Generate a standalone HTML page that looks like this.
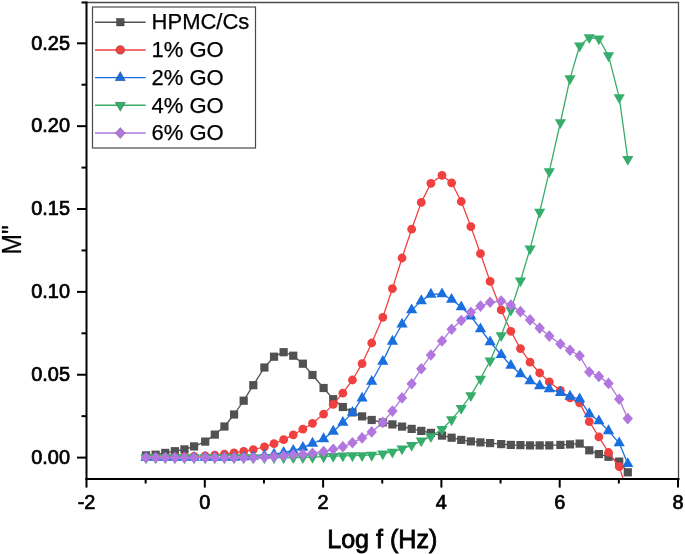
<!DOCTYPE html>
<html><head><meta charset="utf-8"><title>M'' vs Log f</title>
<style>html,body{margin:0;padding:0;background:#fff}svg{display:block}</style></head>
<body>
<svg width="685" height="554" viewBox="0 0 685 554">
<rect width="685" height="554" fill="#fff"/>
<defs><clipPath id="c"><rect x="86.5" y="2.5" width="592.0" height="475.4"/></clipPath></defs>
<g clip-path="url(#c)">
<g><polyline points="146,455.4 155.62,454.7 165.24,452.9 174.86,451.2 184.48,449.4 194.1,446.4 205.2,441.6 214.82,434.6 224.44,426.5 234.06,414.5 243.68,400.7 253.3,385.2 264.4,367.5 274.02,356.7 283.64,352.2 293.26,355.7 302.88,363.7 312.5,375 323.6,388 333.22,399.2 342.84,407 352.46,412.4 362.08,416.4 371.7,420 382.8,422.4 392.42,424.4 402.04,426.6 411.66,428.9 421.28,430.9 430.9,432.9 442,435.6 451.62,437.7 461.24,439.9 470.86,441.4 480.48,442.4 490.1,443.1 501.2,444.1 510.82,444.9 520.44,445.1 530.06,445.4 539.68,445.4 549.3,445.4 560.4,444.9 570.02,444.4 579.64,443.6 589.26,450.3 598.88,454.1 608.5,456.8 619.2,461.6 627.8,472.3" fill="none" stroke="#515151" stroke-width="1.3" stroke-linejoin="round"/>
<rect x="141.9" y="451.3" width="8.2" height="8.2" fill="#515151"/>
<rect x="151.52" y="450.6" width="8.2" height="8.2" fill="#515151"/>
<rect x="161.14" y="448.8" width="8.2" height="8.2" fill="#515151"/>
<rect x="170.76" y="447.1" width="8.2" height="8.2" fill="#515151"/>
<rect x="180.38" y="445.3" width="8.2" height="8.2" fill="#515151"/>
<rect x="190" y="442.3" width="8.2" height="8.2" fill="#515151"/>
<rect x="201.1" y="437.5" width="8.2" height="8.2" fill="#515151"/>
<rect x="210.72" y="430.5" width="8.2" height="8.2" fill="#515151"/>
<rect x="220.34" y="422.4" width="8.2" height="8.2" fill="#515151"/>
<rect x="229.96" y="410.4" width="8.2" height="8.2" fill="#515151"/>
<rect x="239.58" y="396.6" width="8.2" height="8.2" fill="#515151"/>
<rect x="249.2" y="381.1" width="8.2" height="8.2" fill="#515151"/>
<rect x="260.3" y="363.4" width="8.2" height="8.2" fill="#515151"/>
<rect x="269.92" y="352.6" width="8.2" height="8.2" fill="#515151"/>
<rect x="279.54" y="348.1" width="8.2" height="8.2" fill="#515151"/>
<rect x="289.16" y="351.6" width="8.2" height="8.2" fill="#515151"/>
<rect x="298.78" y="359.6" width="8.2" height="8.2" fill="#515151"/>
<rect x="308.4" y="370.9" width="8.2" height="8.2" fill="#515151"/>
<rect x="319.5" y="383.9" width="8.2" height="8.2" fill="#515151"/>
<rect x="329.12" y="395.1" width="8.2" height="8.2" fill="#515151"/>
<rect x="338.74" y="402.9" width="8.2" height="8.2" fill="#515151"/>
<rect x="348.36" y="408.3" width="8.2" height="8.2" fill="#515151"/>
<rect x="357.98" y="412.3" width="8.2" height="8.2" fill="#515151"/>
<rect x="367.6" y="415.9" width="8.2" height="8.2" fill="#515151"/>
<rect x="378.7" y="418.3" width="8.2" height="8.2" fill="#515151"/>
<rect x="388.32" y="420.3" width="8.2" height="8.2" fill="#515151"/>
<rect x="397.94" y="422.5" width="8.2" height="8.2" fill="#515151"/>
<rect x="407.56" y="424.8" width="8.2" height="8.2" fill="#515151"/>
<rect x="417.18" y="426.8" width="8.2" height="8.2" fill="#515151"/>
<rect x="426.8" y="428.8" width="8.2" height="8.2" fill="#515151"/>
<rect x="437.9" y="431.5" width="8.2" height="8.2" fill="#515151"/>
<rect x="447.52" y="433.6" width="8.2" height="8.2" fill="#515151"/>
<rect x="457.14" y="435.8" width="8.2" height="8.2" fill="#515151"/>
<rect x="466.76" y="437.3" width="8.2" height="8.2" fill="#515151"/>
<rect x="476.38" y="438.3" width="8.2" height="8.2" fill="#515151"/>
<rect x="486" y="439" width="8.2" height="8.2" fill="#515151"/>
<rect x="497.1" y="440" width="8.2" height="8.2" fill="#515151"/>
<rect x="506.72" y="440.8" width="8.2" height="8.2" fill="#515151"/>
<rect x="516.34" y="441" width="8.2" height="8.2" fill="#515151"/>
<rect x="525.96" y="441.3" width="8.2" height="8.2" fill="#515151"/>
<rect x="535.58" y="441.3" width="8.2" height="8.2" fill="#515151"/>
<rect x="545.2" y="441.3" width="8.2" height="8.2" fill="#515151"/>
<rect x="556.3" y="440.8" width="8.2" height="8.2" fill="#515151"/>
<rect x="565.92" y="440.3" width="8.2" height="8.2" fill="#515151"/>
<rect x="575.54" y="439.5" width="8.2" height="8.2" fill="#515151"/>
<rect x="585.16" y="446.2" width="8.2" height="8.2" fill="#515151"/>
<rect x="594.78" y="450" width="8.2" height="8.2" fill="#515151"/>
<rect x="604.4" y="452.7" width="8.2" height="8.2" fill="#515151"/>
<rect x="615.1" y="457.5" width="8.2" height="8.2" fill="#515151"/>
<rect x="623.7" y="468.2" width="8.2" height="8.2" fill="#515151"/>
</g>
<g><polyline points="146,457.3 155.62,457.2 165.24,457 174.86,456.8 184.48,456.6 194.1,456.3 205.2,455.8 214.82,455.1 224.44,454.1 234.06,452.8 243.68,451.4 253.3,449.6 264.4,446.9 274.02,443.7 283.64,439.7 293.26,434.8 302.88,429.2 312.5,423.3 323.6,414.1 333.22,404.4 342.84,393.2 352.46,380 362.08,363.7 371.7,343 382.8,317.3 392.42,288.6 402.04,258 411.66,229.2 421.28,202.4 430.9,183.3 442,175.4 451.62,182.8 461.24,201.5 470.86,226.6 480.48,253.7 490.1,281.4 501.2,309.9 510.82,331.3 520.44,348.6 530.06,362.2 539.68,373 549.3,381.9 560.4,390.4 570.02,397.9 579.64,402.9 589.26,421.7 598.88,436.9 608.5,452.5 619.2,466.6 627.8,493" fill="none" stroke="#F14040" stroke-width="1.3" stroke-linejoin="round"/>
<circle cx="146" cy="457.3" r="4.4" fill="#F14040"/>
<circle cx="155.62" cy="457.2" r="4.4" fill="#F14040"/>
<circle cx="165.24" cy="457" r="4.4" fill="#F14040"/>
<circle cx="174.86" cy="456.8" r="4.4" fill="#F14040"/>
<circle cx="184.48" cy="456.6" r="4.4" fill="#F14040"/>
<circle cx="194.1" cy="456.3" r="4.4" fill="#F14040"/>
<circle cx="205.2" cy="455.8" r="4.4" fill="#F14040"/>
<circle cx="214.82" cy="455.1" r="4.4" fill="#F14040"/>
<circle cx="224.44" cy="454.1" r="4.4" fill="#F14040"/>
<circle cx="234.06" cy="452.8" r="4.4" fill="#F14040"/>
<circle cx="243.68" cy="451.4" r="4.4" fill="#F14040"/>
<circle cx="253.3" cy="449.6" r="4.4" fill="#F14040"/>
<circle cx="264.4" cy="446.9" r="4.4" fill="#F14040"/>
<circle cx="274.02" cy="443.7" r="4.4" fill="#F14040"/>
<circle cx="283.64" cy="439.7" r="4.4" fill="#F14040"/>
<circle cx="293.26" cy="434.8" r="4.4" fill="#F14040"/>
<circle cx="302.88" cy="429.2" r="4.4" fill="#F14040"/>
<circle cx="312.5" cy="423.3" r="4.4" fill="#F14040"/>
<circle cx="323.6" cy="414.1" r="4.4" fill="#F14040"/>
<circle cx="333.22" cy="404.4" r="4.4" fill="#F14040"/>
<circle cx="342.84" cy="393.2" r="4.4" fill="#F14040"/>
<circle cx="352.46" cy="380" r="4.4" fill="#F14040"/>
<circle cx="362.08" cy="363.7" r="4.4" fill="#F14040"/>
<circle cx="371.7" cy="343" r="4.4" fill="#F14040"/>
<circle cx="382.8" cy="317.3" r="4.4" fill="#F14040"/>
<circle cx="392.42" cy="288.6" r="4.4" fill="#F14040"/>
<circle cx="402.04" cy="258" r="4.4" fill="#F14040"/>
<circle cx="411.66" cy="229.2" r="4.4" fill="#F14040"/>
<circle cx="421.28" cy="202.4" r="4.4" fill="#F14040"/>
<circle cx="430.9" cy="183.3" r="4.4" fill="#F14040"/>
<circle cx="442" cy="175.4" r="4.4" fill="#F14040"/>
<circle cx="451.62" cy="182.8" r="4.4" fill="#F14040"/>
<circle cx="461.24" cy="201.5" r="4.4" fill="#F14040"/>
<circle cx="470.86" cy="226.6" r="4.4" fill="#F14040"/>
<circle cx="480.48" cy="253.7" r="4.4" fill="#F14040"/>
<circle cx="490.1" cy="281.4" r="4.4" fill="#F14040"/>
<circle cx="501.2" cy="309.9" r="4.4" fill="#F14040"/>
<circle cx="510.82" cy="331.3" r="4.4" fill="#F14040"/>
<circle cx="520.44" cy="348.6" r="4.4" fill="#F14040"/>
<circle cx="530.06" cy="362.2" r="4.4" fill="#F14040"/>
<circle cx="539.68" cy="373" r="4.4" fill="#F14040"/>
<circle cx="549.3" cy="381.9" r="4.4" fill="#F14040"/>
<circle cx="560.4" cy="390.4" r="4.4" fill="#F14040"/>
<circle cx="570.02" cy="397.9" r="4.4" fill="#F14040"/>
<circle cx="579.64" cy="402.9" r="4.4" fill="#F14040"/>
<circle cx="589.26" cy="421.7" r="4.4" fill="#F14040"/>
<circle cx="598.88" cy="436.9" r="4.4" fill="#F14040"/>
<circle cx="608.5" cy="452.5" r="4.4" fill="#F14040"/>
<circle cx="619.2" cy="466.6" r="4.4" fill="#F14040"/>
<circle cx="627.8" cy="493" r="4.4" fill="#F14040"/>
</g>
<g><polyline points="146,457.6 155.62,457.6 165.24,457.6 174.86,457.6 184.48,457.6 194.1,457.6 205.2,457.6 214.82,457.6 224.44,457.6 234.06,457.6 243.68,457 253.3,456.5 264.4,455.5 274.02,454.2 283.64,452.6 293.26,450.5 302.88,447.6 312.5,443.4 323.6,438.9 333.22,431.4 342.84,422.6 352.46,412.6 362.08,398.2 371.7,381.5 382.8,361.5 392.42,341.4 402.04,324.3 411.66,310.1 421.28,300.9 430.9,294.4 442,294 451.62,299.5 461.24,307 470.86,316.3 480.48,329 490.1,342 501.2,354.8 510.82,365.6 520.44,373.9 530.06,380.9 539.68,385.9 549.3,388.9 560.4,392.7 570.02,396.4 579.64,399.1 589.26,413.9 598.88,421 608.5,430.9 619.2,443.1 627.8,463.8" fill="none" stroke="#1A6FDF" stroke-width="1.3" stroke-linejoin="round"/>
<path d="M140.4 460.87L151.6 460.87L146 451.07Z" fill="#1A6FDF"/>
<path d="M150.02 460.87L161.22 460.87L155.62 451.07Z" fill="#1A6FDF"/>
<path d="M159.64 460.87L170.84 460.87L165.24 451.07Z" fill="#1A6FDF"/>
<path d="M169.26 460.87L180.46 460.87L174.86 451.07Z" fill="#1A6FDF"/>
<path d="M178.88 460.87L190.08 460.87L184.48 451.07Z" fill="#1A6FDF"/>
<path d="M188.5 460.87L199.7 460.87L194.1 451.07Z" fill="#1A6FDF"/>
<path d="M199.6 460.87L210.8 460.87L205.2 451.07Z" fill="#1A6FDF"/>
<path d="M209.22 460.87L220.42 460.87L214.82 451.07Z" fill="#1A6FDF"/>
<path d="M218.84 460.87L230.04 460.87L224.44 451.07Z" fill="#1A6FDF"/>
<path d="M228.46 460.87L239.66 460.87L234.06 451.07Z" fill="#1A6FDF"/>
<path d="M238.08 460.27L249.28 460.27L243.68 450.47Z" fill="#1A6FDF"/>
<path d="M247.7 459.77L258.9 459.77L253.3 449.97Z" fill="#1A6FDF"/>
<path d="M258.8 458.77L270 458.77L264.4 448.97Z" fill="#1A6FDF"/>
<path d="M268.42 457.47L279.62 457.47L274.02 447.67Z" fill="#1A6FDF"/>
<path d="M278.04 455.87L289.24 455.87L283.64 446.07Z" fill="#1A6FDF"/>
<path d="M287.66 453.77L298.86 453.77L293.26 443.97Z" fill="#1A6FDF"/>
<path d="M297.28 450.87L308.48 450.87L302.88 441.07Z" fill="#1A6FDF"/>
<path d="M306.9 446.67L318.1 446.67L312.5 436.87Z" fill="#1A6FDF"/>
<path d="M318 442.17L329.2 442.17L323.6 432.37Z" fill="#1A6FDF"/>
<path d="M327.62 434.67L338.82 434.67L333.22 424.87Z" fill="#1A6FDF"/>
<path d="M337.24 425.87L348.44 425.87L342.84 416.07Z" fill="#1A6FDF"/>
<path d="M346.86 415.87L358.06 415.87L352.46 406.07Z" fill="#1A6FDF"/>
<path d="M356.48 401.47L367.68 401.47L362.08 391.67Z" fill="#1A6FDF"/>
<path d="M366.1 384.77L377.3 384.77L371.7 374.97Z" fill="#1A6FDF"/>
<path d="M377.2 364.77L388.4 364.77L382.8 354.97Z" fill="#1A6FDF"/>
<path d="M386.82 344.67L398.02 344.67L392.42 334.87Z" fill="#1A6FDF"/>
<path d="M396.44 327.57L407.64 327.57L402.04 317.77Z" fill="#1A6FDF"/>
<path d="M406.06 313.37L417.26 313.37L411.66 303.57Z" fill="#1A6FDF"/>
<path d="M415.68 304.17L426.88 304.17L421.28 294.37Z" fill="#1A6FDF"/>
<path d="M425.3 297.67L436.5 297.67L430.9 287.87Z" fill="#1A6FDF"/>
<path d="M436.4 297.27L447.6 297.27L442 287.47Z" fill="#1A6FDF"/>
<path d="M446.02 302.77L457.22 302.77L451.62 292.97Z" fill="#1A6FDF"/>
<path d="M455.64 310.27L466.84 310.27L461.24 300.47Z" fill="#1A6FDF"/>
<path d="M465.26 319.57L476.46 319.57L470.86 309.77Z" fill="#1A6FDF"/>
<path d="M474.88 332.27L486.08 332.27L480.48 322.47Z" fill="#1A6FDF"/>
<path d="M484.5 345.27L495.7 345.27L490.1 335.47Z" fill="#1A6FDF"/>
<path d="M495.6 358.07L506.8 358.07L501.2 348.27Z" fill="#1A6FDF"/>
<path d="M505.22 368.87L516.42 368.87L510.82 359.07Z" fill="#1A6FDF"/>
<path d="M514.84 377.17L526.04 377.17L520.44 367.37Z" fill="#1A6FDF"/>
<path d="M524.46 384.17L535.66 384.17L530.06 374.37Z" fill="#1A6FDF"/>
<path d="M534.08 389.17L545.28 389.17L539.68 379.37Z" fill="#1A6FDF"/>
<path d="M543.7 392.17L554.9 392.17L549.3 382.37Z" fill="#1A6FDF"/>
<path d="M554.8 395.97L566 395.97L560.4 386.17Z" fill="#1A6FDF"/>
<path d="M564.42 399.67L575.62 399.67L570.02 389.87Z" fill="#1A6FDF"/>
<path d="M574.04 402.37L585.24 402.37L579.64 392.57Z" fill="#1A6FDF"/>
<path d="M583.66 417.17L594.86 417.17L589.26 407.37Z" fill="#1A6FDF"/>
<path d="M593.28 424.27L604.48 424.27L598.88 414.47Z" fill="#1A6FDF"/>
<path d="M602.9 434.17L614.1 434.17L608.5 424.37Z" fill="#1A6FDF"/>
<path d="M613.6 446.37L624.8 446.37L619.2 436.57Z" fill="#1A6FDF"/>
<path d="M622.2 467.07L633.4 467.07L627.8 457.27Z" fill="#1A6FDF"/>
</g>
<g><polyline points="146,457.6 155.62,457.6 165.24,457.6 174.86,457.6 184.48,457.6 194.1,457.6 205.2,457.6 214.82,457.6 224.44,457.6 234.06,457.6 243.68,457.6 253.3,457.6 264.4,457.6 274.02,457.6 283.64,457.6 293.26,457.5 302.88,457.4 312.5,457.2 323.6,456.6 333.22,456.2 342.84,455.8 352.46,455.6 362.08,455.4 371.7,455.1 382.8,453.7 392.42,451.9 402.04,448.8 411.66,445.3 421.28,440.8 430.9,436.4 442,429.3 451.62,419.6 461.24,408.2 470.86,395.4 480.48,378.9 490.1,360.8 501.2,335.4 510.82,310 520.44,280.8 530.06,248.8 539.68,212 549.3,171.4 560.4,122.5 570.02,78.6 579.64,45.7 589.26,37.5 598.88,38.8 608.5,55.6 619.2,97.4 627.8,159.2" fill="none" stroke="#37AD6B" stroke-width="1.3" stroke-linejoin="round"/>
<path d="M140.4 454.33L151.6 454.33L146 464.13Z" fill="#37AD6B"/>
<path d="M150.02 454.33L161.22 454.33L155.62 464.13Z" fill="#37AD6B"/>
<path d="M159.64 454.33L170.84 454.33L165.24 464.13Z" fill="#37AD6B"/>
<path d="M169.26 454.33L180.46 454.33L174.86 464.13Z" fill="#37AD6B"/>
<path d="M178.88 454.33L190.08 454.33L184.48 464.13Z" fill="#37AD6B"/>
<path d="M188.5 454.33L199.7 454.33L194.1 464.13Z" fill="#37AD6B"/>
<path d="M199.6 454.33L210.8 454.33L205.2 464.13Z" fill="#37AD6B"/>
<path d="M209.22 454.33L220.42 454.33L214.82 464.13Z" fill="#37AD6B"/>
<path d="M218.84 454.33L230.04 454.33L224.44 464.13Z" fill="#37AD6B"/>
<path d="M228.46 454.33L239.66 454.33L234.06 464.13Z" fill="#37AD6B"/>
<path d="M238.08 454.33L249.28 454.33L243.68 464.13Z" fill="#37AD6B"/>
<path d="M247.7 454.33L258.9 454.33L253.3 464.13Z" fill="#37AD6B"/>
<path d="M258.8 454.33L270 454.33L264.4 464.13Z" fill="#37AD6B"/>
<path d="M268.42 454.33L279.62 454.33L274.02 464.13Z" fill="#37AD6B"/>
<path d="M278.04 454.33L289.24 454.33L283.64 464.13Z" fill="#37AD6B"/>
<path d="M287.66 454.23L298.86 454.23L293.26 464.03Z" fill="#37AD6B"/>
<path d="M297.28 454.13L308.48 454.13L302.88 463.93Z" fill="#37AD6B"/>
<path d="M306.9 453.93L318.1 453.93L312.5 463.73Z" fill="#37AD6B"/>
<path d="M318 453.33L329.2 453.33L323.6 463.13Z" fill="#37AD6B"/>
<path d="M327.62 452.93L338.82 452.93L333.22 462.73Z" fill="#37AD6B"/>
<path d="M337.24 452.53L348.44 452.53L342.84 462.33Z" fill="#37AD6B"/>
<path d="M346.86 452.33L358.06 452.33L352.46 462.13Z" fill="#37AD6B"/>
<path d="M356.48 452.13L367.68 452.13L362.08 461.93Z" fill="#37AD6B"/>
<path d="M366.1 451.83L377.3 451.83L371.7 461.63Z" fill="#37AD6B"/>
<path d="M377.2 450.43L388.4 450.43L382.8 460.23Z" fill="#37AD6B"/>
<path d="M386.82 448.63L398.02 448.63L392.42 458.43Z" fill="#37AD6B"/>
<path d="M396.44 445.53L407.64 445.53L402.04 455.33Z" fill="#37AD6B"/>
<path d="M406.06 442.03L417.26 442.03L411.66 451.83Z" fill="#37AD6B"/>
<path d="M415.68 437.53L426.88 437.53L421.28 447.33Z" fill="#37AD6B"/>
<path d="M425.3 433.13L436.5 433.13L430.9 442.93Z" fill="#37AD6B"/>
<path d="M436.4 426.03L447.6 426.03L442 435.83Z" fill="#37AD6B"/>
<path d="M446.02 416.33L457.22 416.33L451.62 426.13Z" fill="#37AD6B"/>
<path d="M455.64 404.93L466.84 404.93L461.24 414.73Z" fill="#37AD6B"/>
<path d="M465.26 392.13L476.46 392.13L470.86 401.93Z" fill="#37AD6B"/>
<path d="M474.88 375.63L486.08 375.63L480.48 385.43Z" fill="#37AD6B"/>
<path d="M484.5 357.53L495.7 357.53L490.1 367.33Z" fill="#37AD6B"/>
<path d="M495.6 332.13L506.8 332.13L501.2 341.93Z" fill="#37AD6B"/>
<path d="M505.22 306.73L516.42 306.73L510.82 316.53Z" fill="#37AD6B"/>
<path d="M514.84 277.53L526.04 277.53L520.44 287.33Z" fill="#37AD6B"/>
<path d="M524.46 245.53L535.66 245.53L530.06 255.33Z" fill="#37AD6B"/>
<path d="M534.08 208.73L545.28 208.73L539.68 218.53Z" fill="#37AD6B"/>
<path d="M543.7 168.13L554.9 168.13L549.3 177.93Z" fill="#37AD6B"/>
<path d="M554.8 119.23L566 119.23L560.4 129.03Z" fill="#37AD6B"/>
<path d="M564.42 75.33L575.62 75.33L570.02 85.13Z" fill="#37AD6B"/>
<path d="M574.04 42.43L585.24 42.43L579.64 52.23Z" fill="#37AD6B"/>
<path d="M583.66 34.23L594.86 34.23L589.26 44.03Z" fill="#37AD6B"/>
<path d="M593.28 35.53L604.48 35.53L598.88 45.33Z" fill="#37AD6B"/>
<path d="M602.9 52.33L614.1 52.33L608.5 62.13Z" fill="#37AD6B"/>
<path d="M613.6 94.13L624.8 94.13L619.2 103.93Z" fill="#37AD6B"/>
<path d="M622.2 155.93L633.4 155.93L627.8 165.73Z" fill="#37AD6B"/>
</g>
<g><polyline points="146,457.7 155.62,457.7 165.24,457.7 174.86,457.7 184.48,457.7 194.1,457.7 205.2,457.7 214.82,457.7 224.44,457.7 234.06,457.7 243.68,457.7 253.3,457.7 264.4,457.1 274.02,456.6 283.64,455.7 293.26,454.8 302.88,454.2 312.5,453.2 323.6,451.6 333.22,449.3 342.84,446.8 352.46,442.8 362.08,437.9 371.7,431.9 382.8,422.4 392.42,411.1 402.04,397.9 411.66,383.7 421.28,368.7 430.9,355 442,341 451.62,329.2 461.24,320.5 470.86,312.3 480.48,306.1 490.1,302.3 501.2,301 510.82,305.1 520.44,311.6 530.06,319.9 539.68,328.1 549.3,336.1 560.4,344 570.02,350.2 579.64,355.8 589.26,372 598.88,376.4 608.5,383.4 619.2,399.2 627.8,418.6" fill="none" stroke="#B177DE" stroke-width="1.3" stroke-linejoin="round"/>
<path d="M140.8 457.7L146 451.9L151.2 457.7L146 463.5Z" fill="#B177DE"/>
<path d="M150.42 457.7L155.62 451.9L160.82 457.7L155.62 463.5Z" fill="#B177DE"/>
<path d="M160.04 457.7L165.24 451.9L170.44 457.7L165.24 463.5Z" fill="#B177DE"/>
<path d="M169.66 457.7L174.86 451.9L180.06 457.7L174.86 463.5Z" fill="#B177DE"/>
<path d="M179.28 457.7L184.48 451.9L189.68 457.7L184.48 463.5Z" fill="#B177DE"/>
<path d="M188.9 457.7L194.1 451.9L199.3 457.7L194.1 463.5Z" fill="#B177DE"/>
<path d="M200 457.7L205.2 451.9L210.4 457.7L205.2 463.5Z" fill="#B177DE"/>
<path d="M209.62 457.7L214.82 451.9L220.02 457.7L214.82 463.5Z" fill="#B177DE"/>
<path d="M219.24 457.7L224.44 451.9L229.64 457.7L224.44 463.5Z" fill="#B177DE"/>
<path d="M228.86 457.7L234.06 451.9L239.26 457.7L234.06 463.5Z" fill="#B177DE"/>
<path d="M238.48 457.7L243.68 451.9L248.88 457.7L243.68 463.5Z" fill="#B177DE"/>
<path d="M248.1 457.7L253.3 451.9L258.5 457.7L253.3 463.5Z" fill="#B177DE"/>
<path d="M259.2 457.1L264.4 451.3L269.6 457.1L264.4 462.9Z" fill="#B177DE"/>
<path d="M268.82 456.6L274.02 450.8L279.22 456.6L274.02 462.4Z" fill="#B177DE"/>
<path d="M278.44 455.7L283.64 449.9L288.84 455.7L283.64 461.5Z" fill="#B177DE"/>
<path d="M288.06 454.8L293.26 449L298.46 454.8L293.26 460.6Z" fill="#B177DE"/>
<path d="M297.68 454.2L302.88 448.4L308.08 454.2L302.88 460Z" fill="#B177DE"/>
<path d="M307.3 453.2L312.5 447.4L317.7 453.2L312.5 459Z" fill="#B177DE"/>
<path d="M318.4 451.6L323.6 445.8L328.8 451.6L323.6 457.4Z" fill="#B177DE"/>
<path d="M328.02 449.3L333.22 443.5L338.42 449.3L333.22 455.1Z" fill="#B177DE"/>
<path d="M337.64 446.8L342.84 441L348.04 446.8L342.84 452.6Z" fill="#B177DE"/>
<path d="M347.26 442.8L352.46 437L357.66 442.8L352.46 448.6Z" fill="#B177DE"/>
<path d="M356.88 437.9L362.08 432.1L367.28 437.9L362.08 443.7Z" fill="#B177DE"/>
<path d="M366.5 431.9L371.7 426.1L376.9 431.9L371.7 437.7Z" fill="#B177DE"/>
<path d="M377.6 422.4L382.8 416.6L388 422.4L382.8 428.2Z" fill="#B177DE"/>
<path d="M387.22 411.1L392.42 405.3L397.62 411.1L392.42 416.9Z" fill="#B177DE"/>
<path d="M396.84 397.9L402.04 392.1L407.24 397.9L402.04 403.7Z" fill="#B177DE"/>
<path d="M406.46 383.7L411.66 377.9L416.86 383.7L411.66 389.5Z" fill="#B177DE"/>
<path d="M416.08 368.7L421.28 362.9L426.48 368.7L421.28 374.5Z" fill="#B177DE"/>
<path d="M425.7 355L430.9 349.2L436.1 355L430.9 360.8Z" fill="#B177DE"/>
<path d="M436.8 341L442 335.2L447.2 341L442 346.8Z" fill="#B177DE"/>
<path d="M446.42 329.2L451.62 323.4L456.82 329.2L451.62 335Z" fill="#B177DE"/>
<path d="M456.04 320.5L461.24 314.7L466.44 320.5L461.24 326.3Z" fill="#B177DE"/>
<path d="M465.66 312.3L470.86 306.5L476.06 312.3L470.86 318.1Z" fill="#B177DE"/>
<path d="M475.28 306.1L480.48 300.3L485.68 306.1L480.48 311.9Z" fill="#B177DE"/>
<path d="M484.9 302.3L490.1 296.5L495.3 302.3L490.1 308.1Z" fill="#B177DE"/>
<path d="M496 301L501.2 295.2L506.4 301L501.2 306.8Z" fill="#B177DE"/>
<path d="M505.62 305.1L510.82 299.3L516.02 305.1L510.82 310.9Z" fill="#B177DE"/>
<path d="M515.24 311.6L520.44 305.8L525.64 311.6L520.44 317.4Z" fill="#B177DE"/>
<path d="M524.86 319.9L530.06 314.1L535.26 319.9L530.06 325.7Z" fill="#B177DE"/>
<path d="M534.48 328.1L539.68 322.3L544.88 328.1L539.68 333.9Z" fill="#B177DE"/>
<path d="M544.1 336.1L549.3 330.3L554.5 336.1L549.3 341.9Z" fill="#B177DE"/>
<path d="M555.2 344L560.4 338.2L565.6 344L560.4 349.8Z" fill="#B177DE"/>
<path d="M564.82 350.2L570.02 344.4L575.22 350.2L570.02 356Z" fill="#B177DE"/>
<path d="M574.44 355.8L579.64 350L584.84 355.8L579.64 361.6Z" fill="#B177DE"/>
<path d="M584.06 372L589.26 366.2L594.46 372L589.26 377.8Z" fill="#B177DE"/>
<path d="M593.68 376.4L598.88 370.6L604.08 376.4L598.88 382.2Z" fill="#B177DE"/>
<path d="M603.3 383.4L608.5 377.6L613.7 383.4L608.5 389.2Z" fill="#B177DE"/>
<path d="M614 399.2L619.2 393.4L624.4 399.2L619.2 405Z" fill="#B177DE"/>
<path d="M622.6 418.6L627.8 412.8L633 418.6L627.8 424.4Z" fill="#B177DE"/>
</g>
</g>
<path d="M86.5 2.5H678.5V478.9" fill="none" stroke="#4a4a4a" stroke-width="1.3"/>
<g stroke="#000" stroke-width="2" fill="none">
<path d="M86.5 1.5V479.9"/>
<path d="M85.5 478.9H679.5"/>
<path d="M77.0 457.6H86.5"/>
<path d="M77.0 374.74H86.5"/>
<path d="M77.0 291.88H86.5"/>
<path d="M77.0 209.02H86.5"/>
<path d="M77.0 126.16H86.5"/>
<path d="M77.0 43.3H86.5"/>
<path d="M81.5 416.17H86.5"/>
<path d="M81.5 333.31H86.5"/>
<path d="M81.5 250.45H86.5"/>
<path d="M81.5 167.59H86.5"/>
<path d="M81.5 84.73H86.5"/>
<path d="M81.5 2.5H86.5"/>
<path d="M86.5 478.9V487.59999999999997"/>
<path d="M204.8 478.9V487.59999999999997"/>
<path d="M323.1 478.9V487.59999999999997"/>
<path d="M441.4 478.9V487.59999999999997"/>
<path d="M559.7 478.9V487.59999999999997"/>
<path d="M678 478.9V487.59999999999997"/>
<path d="M145.65 478.9V483.5"/>
<path d="M263.95 478.9V483.5"/>
<path d="M382.25 478.9V483.5"/>
<path d="M500.55 478.9V483.5"/>
<path d="M618.85 478.9V483.5"/>
</g>
<g font-family="'Liberation Sans', Arial, sans-serif" font-size="19.9" fill="#000" stroke="#000" stroke-width="0.7">
<text x="70" y="463.8" text-anchor="end">0.00</text>
<text x="70" y="380.94" text-anchor="end">0.05</text>
<text x="70" y="298.08" text-anchor="end">0.10</text>
<text x="70" y="215.22" text-anchor="end">0.15</text>
<text x="70" y="132.36" text-anchor="end">0.20</text>
<text x="70" y="49.5" text-anchor="end">0.25</text>
<text x="86.5" y="509.4" text-anchor="middle">-2</text>
<text x="204.8" y="509.4" text-anchor="middle">0</text>
<text x="323.1" y="509.4" text-anchor="middle">2</text>
<text x="441.4" y="509.4" text-anchor="middle">4</text>
<text x="559.7" y="509.4" text-anchor="middle">6</text>
<text x="678" y="509.4" text-anchor="middle">8</text>
</g>
<g font-family="'Liberation Sans', Arial, sans-serif" fill="#000" stroke="#000" stroke-width="0.8">
<text x="382.3" y="547.7" font-size="25.1" text-anchor="middle">Log f (Hz)</text>
<text transform="translate(21.4 254.6) rotate(-90) scale(0.88 1)" font-size="28" stroke-width="0.25" text-anchor="start" x="0" y="0">M&quot;</text>
</g>
<rect x="92.5" y="7" width="163" height="141" fill="#fff" stroke="#4a4a4a" stroke-width="1.2"/>
<g font-family="'Liberation Sans', Arial, sans-serif" font-size="22" fill="#000" stroke="#000" stroke-width="0.25">
<path d="M95 22.2H145.7" stroke="#515151" stroke-width="1.45"/>
<rect x="116.5" y="18.4" width="7.6" height="7.6" fill="#515151"/>
<text x="151.6" y="29.4">HPMC/Cs</text>
<path d="M95 49.9H145.7" stroke="#F14040" stroke-width="1.45"/>
<circle cx="120.3" cy="49.9" r="4.4" fill="#F14040"/>
<text x="151.6" y="57.1">1% GO</text>
<path d="M95 77.6H145.7" stroke="#1A6FDF" stroke-width="1.45"/>
<path d="M115.15 80.63L125.45 80.63L120.3 71.53Z" fill="#1A6FDF"/>
<text x="151.6" y="84.8">2% GO</text>
<path d="M95 105.3H145.7" stroke="#37AD6B" stroke-width="1.45"/>
<path d="M115.15 102.27L125.45 102.27L120.3 111.37Z" fill="#37AD6B"/>
<text x="151.6" y="112.5">4% GO</text>
<path d="M95 133H145.7" stroke="#B177DE" stroke-width="1.45"/>
<path d="M115.4 133L120.3 127.5L125.2 133L120.3 138.5Z" fill="#B177DE"/>
<text x="151.6" y="140.2">6% GO</text>
</g>
</svg>
</body></html>
